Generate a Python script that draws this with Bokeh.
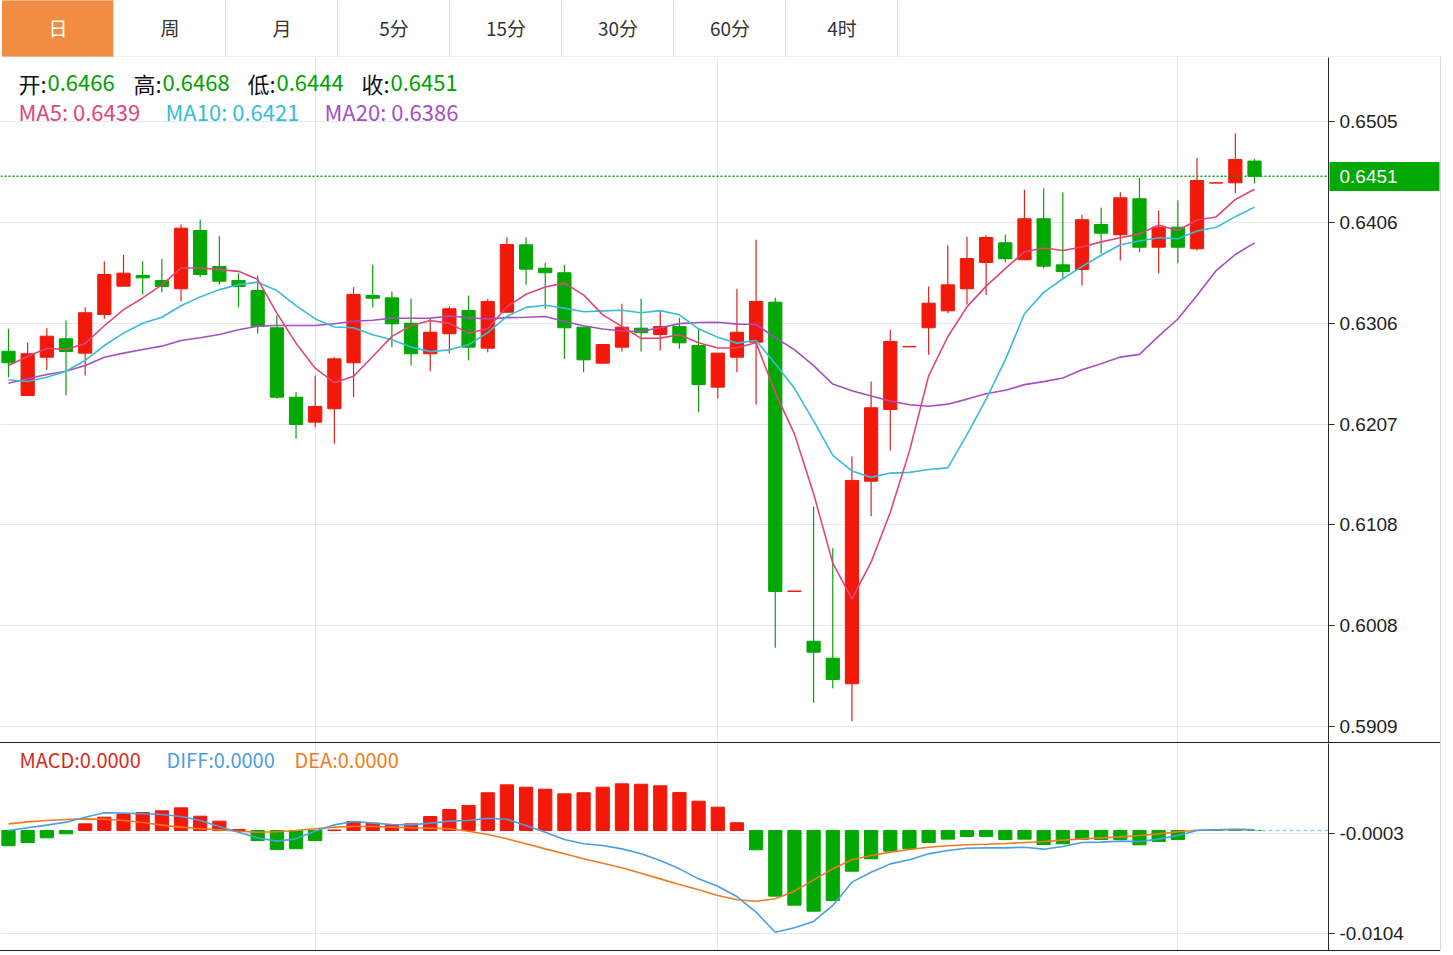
import numpy as np
import pandas as pd
from bokeh.plotting import figure
from bokeh.models import (Range1d, FixedTicker, PrintfTickFormatter, Span, Label,
                          ColumnDataSource, Spacer, LinearAxis)
from bokeh.layouts import column, row
from bokeh.embed import file_html
from bokeh.resources import INLINE
from bokeh.core.properties import value

# ---------------- data ----------------
tab_labels = ["日", "周", "月", "5分", "15分", "30分", "60分", "4时"]

opens = [0.62787, 0.62351, 0.62728, 0.62909, 0.62768, 0.63149, 0.63428, 0.63533, 0.63484, 0.63402,
         0.63976, 0.63622, 0.63484, 0.63385, 0.63018, 0.62334, 0.62088, 0.62220, 0.62673, 0.63336,
         0.63313, 0.63063, 0.62762, 0.62959, 0.63188, 0.62817, 0.63171, 0.63835, 0.63605, 0.63560,
         0.63024, 0.62669, 0.62827, 0.63014, 0.62952, 0.63031, 0.62843, 0.62433, 0.62728, 0.62876,
         0.63270, 0.60420, 0.59930, 0.59763, 0.59511, 0.61507, 0.62213, 0.62830, 0.63018, 0.63185,
         0.63402, 0.63661, 0.63855, 0.63688, 0.64092, 0.63638, 0.63592, 0.64035, 0.63934, 0.64289,
         0.63812, 0.64009, 0.63796, 0.64444, 0.64446, 0.64660]
highs = [0.63008, 0.62870, 0.63014, 0.63090, 0.63221, 0.63674, 0.63737, 0.63674, 0.63698, 0.64035,
         0.64085, 0.63920, 0.63556, 0.63533, 0.63139, 0.62383, 0.62548, 0.62728, 0.63418, 0.63638,
         0.63375, 0.63303, 0.63106, 0.63228, 0.63336, 0.63303, 0.63910, 0.63910, 0.63658, 0.63638,
         0.63030, 0.62853, 0.63254, 0.63303, 0.63188, 0.63116, 0.63008, 0.62768, 0.63402, 0.63885,
         0.63313, 0.60425, 0.61257, 0.60847, 0.61750, 0.62489, 0.62998, 0.62836, 0.63425, 0.63829,
         0.63914, 0.63930, 0.63934, 0.64377, 0.64393, 0.64354, 0.64131, 0.64200, 0.64354, 0.64495,
         0.64173, 0.64272, 0.64692, 0.64448, 0.64935, 0.64680]
lows = [0.62531, 0.62350, 0.62604, 0.62351, 0.62548, 0.63106, 0.63425, 0.63346, 0.63368, 0.63280,
        0.63516, 0.63441, 0.63221, 0.62959, 0.62318, 0.61924, 0.62039, 0.61875, 0.62334, 0.63221,
        0.62827, 0.62646, 0.62590, 0.62768, 0.62696, 0.62777, 0.63170, 0.63441, 0.63205, 0.62712,
        0.62580, 0.62669, 0.62784, 0.62784, 0.62794, 0.62811, 0.62186, 0.62318, 0.62580, 0.62262,
        0.59865, 0.60420, 0.59324, 0.59467, 0.59142, 0.61162, 0.61809, 0.62830, 0.62752, 0.63162,
        0.63247, 0.63341, 0.63664, 0.63685, 0.63605, 0.63500, 0.63434, 0.63747, 0.63681, 0.63763,
        0.63556, 0.63654, 0.63779, 0.64444, 0.64344, 0.64440]
closes = [0.62673, 0.62762, 0.62935, 0.62784, 0.63166, 0.63543, 0.63556, 0.63510, 0.63425, 0.63999,
          0.63543, 0.63477, 0.63425, 0.63031, 0.62334, 0.62065, 0.62243, 0.62712, 0.63346, 0.63309,
          0.63057, 0.62762, 0.62974, 0.63205, 0.62827, 0.63277, 0.63838, 0.63595, 0.63560, 0.63018,
          0.62702, 0.62853, 0.63024, 0.62969, 0.63031, 0.62870, 0.62459, 0.62768, 0.62974, 0.63277,
          0.60420, 0.60425, 0.59822, 0.59553, 0.61514, 0.62230, 0.62883, 0.62834, 0.63260, 0.63441,
          0.63700, 0.63907, 0.63698, 0.64092, 0.63625, 0.63572, 0.64082, 0.63950, 0.64298, 0.63812,
          0.64009, 0.63812, 0.64469, 0.64446, 0.64676, 0.64510]

# moving-average values at the start of the window (earlier history is not shown)
ma5_head = [0.62646, 0.62735, 0.62817, 0.62804]
ma10_head = [0.62506, 0.62489, 0.62531, 0.62590, 0.62696, 0.62843, 0.62965, 0.63063, 0.63122]
ma20_head = [0.62472, 0.62515, 0.62558, 0.62590, 0.62646, 0.62728, 0.62768, 0.62804, 0.62837,
             0.62893, 0.62919, 0.62952, 0.62998, 0.63034, 0.63040, 0.63040, 0.63040, 0.63057, 0.63083]

macd_hist = [-0.00154, -0.00121, -0.00074, -0.00033, 0.00067, 0.00134, 0.00161, 0.00181, 0.00198, 0.00228,
             0.00144, 0.00094, 0.00010, -0.00101, -0.00191, -0.00184, -0.00101, 0.00005, 0.00091, 0.00074,
             0.00057, 0.00067, 0.00141, 0.00211, 0.00252, 0.00380, 0.00460, 0.00436, 0.00416, 0.00369,
             0.00380, 0.00436, 0.00470, 0.00466, 0.00450, 0.00383, 0.00295, 0.00235, 0.00078, -0.00194,
             -0.00661, -0.00752, -0.00812, -0.00705, -0.00410, -0.00285, -0.00208, -0.00184, -0.00121, -0.00087,
             -0.00060, -0.00060, -0.00091, -0.00087, -0.00141, -0.00134, -0.00091, -0.00091, -0.00091, -0.00144,
             -0.00111, -0.00091, 0.0, 0.0, 0.0, 0.0]
macd_diff = [0.0, 0.00027, 0.00054, 0.00084, 0.00134, 0.00178, 0.00175, 0.00168, 0.00161, 0.00141,
             0.00101, 0.00040, -0.00017, -0.00074, -0.00107, -0.00084, -0.00007, 0.00057, 0.00091, 0.00074,
             0.00060, 0.00057, 0.00074, 0.00094, 0.00101, 0.00124, 0.00114, 0.00050, -0.00017, -0.00091,
             -0.00134, -0.00151, -0.00185, -0.00235, -0.00302, -0.00386, -0.00487, -0.00561, -0.00665, -0.00822,
             -0.01024, -0.00980, -0.00916, -0.00755, -0.00520, -0.00420, -0.00336, -0.00295, -0.00235, -0.00201,
             -0.00178, -0.00175, -0.00175, -0.00168, -0.00188, -0.00161, -0.00121, -0.00117, -0.00107, -0.00111,
             -0.00087, -0.00050, 0.0, 0.00007, 0.00013, 0.00007]
macd_dea = [0.00067, 0.00087, 0.00101, 0.00111, 0.00117, 0.00114, 0.00101, 0.00081, 0.00054, 0.00034,
            0.00017, 0.00007, -0.00007, -0.00017, -0.00013, 0.0, 0.00017, 0.00034, 0.00040, 0.00040,
            0.00034, 0.00027, 0.00023, 0.00017, -0.00007, -0.00040, -0.00084, -0.00134, -0.00185, -0.00235,
            -0.00285, -0.00329, -0.00376, -0.00430, -0.00487, -0.00544, -0.00597, -0.00655, -0.00698, -0.00712,
            -0.00688, -0.00611, -0.00497, -0.00386, -0.00295, -0.00252, -0.00218, -0.00191, -0.00168, -0.00154,
            -0.00144, -0.00138, -0.00131, -0.00121, -0.00111, -0.00097, -0.00084, -0.00074, -0.00064, -0.00050,
            -0.00034, -0.00013, 0.00003, 0.00007, 0.00010, 0.00007]

price_ticks = [0.5909, 0.600832, 0.610764, 0.620696, 0.630628, 0.64056, 0.650492]
macd_ticks = [-0.0003, -0.0104]
month_breaks = [16, 37, 61]

ohlc_text = [("开:", "0.6466"), ("高:", "0.6468"), ("低:", "0.6444"), ("收:", "0.6451")]
ma_text = [("MA5: 0.6439", "#E0457B"), ("MA10: 0.6421", "#38BCD8"), ("MA20: 0.6386", "#A64FBF")]
macd_text = [("MACD:0.0000", "#D42A1E"), ("DIFF:0.0000", "#4A9FE2"), ("DEA:0.0000", "#F07A20")]
last_price = 0.6451

# ---------------- styling constants ----------------
RED = "#F2190A"
GREEN = "#00A800"
RED_WICK = "#D8261C"
GREEN_WICK = "#0C9E0C"
GRID = "#E3E9F0"
CJK = "Noto Sans CJK SC"
AXF = "Liberation Sans"
AX_FS = "19px"

n = len(closes)
idx = np.arange(n)
cl = pd.Series(closes)
ma5 = cl.rolling(5).mean().to_numpy()
ma5[:len(ma5_head)] = ma5_head
ma10 = cl.rolling(10).mean().to_numpy()
ma10[:len(ma10_head)] = ma10_head
ma20 = cl.rolling(20).mean().to_numpy()
ma20[:len(ma20_head)] = ma20_head

o = np.array(opens); c = np.array(closes)
up = c >= o
src = ColumnDataSource(dict(
    x=idx, h=highs, l=lows,
    top=np.maximum(o, c), bottom=np.minimum(o, c),
    body=[RED if u else GREEN for u in up],
    wick=[RED_WICK if u else GREEN_WICK for u in up],
))

X_START, X_END = -0.417, 68.86
xr = Range1d(X_START, X_END)

# ---------------- tab bar ----------------
tabs = figure(width=1441, height=57, x_range=Range1d(0, 1441), y_range=Range1d(57, 0),
              toolbar_location=None, output_backend="svg", min_border=0,
              x_axis_location=None, y_axis_location=None, outline_line_color=None)
tabs.grid.visible = False
TAB_W = 112
TAB_X0 = 2
tabs.quad(left=[TAB_X0], right=[TAB_X0 + TAB_W - 1], top=[0], bottom=[56],
          fill_color="#F28C42", line_color="#F28C42")
sep_x = [TAB_X0 + TAB_W * (k + 1) - 1 for k in range(len(tab_labels))]
tabs.segment(x0=sep_x, y0=[0] * len(sep_x), x1=sep_x, y1=[56] * len(sep_x),
             line_color="#DEDEDE", line_width=1)
tabs.segment(x0=[0], y0=[56.5], x1=[1441], y1=[56.5], line_color="#DEDEDE", line_width=1)
tabs.text(x=[TAB_X0 + TAB_W * k + TAB_W / 2 - 0.5 for k in range(len(tab_labels))],
          y=[26.5] * len(tab_labels), text=tab_labels,
          text_color=["#FFFFFF"] + ["#333333"] * (len(tab_labels) - 1),
          text_font=value(CJK), text_font_size="19px",
          text_align="center", text_baseline="middle")


def style_axis(ax, ticks):
    ax.ticker = FixedTicker(ticks=ticks)
    ax.formatter = PrintfTickFormatter(format="%.4f")
    ax.axis_line_color = "#2B2B2B"
    ax.major_tick_line_color = "#2B2B2B"
    ax.major_tick_out = 6
    ax.major_tick_in = 0
    ax.minor_tick_line_color = None
    ax.major_label_text_font = AXF
    ax.major_label_text_font_size = AX_FS
    ax.major_label_text_color = "#222222"
    ax.major_label_standoff = 5


# ---------------- main price chart ----------------
p = figure(width=1440, height=685, x_range=xr, y_range=Range1d(0.589325, 0.656805),
           toolbar_location=None, output_backend="svg",
           x_axis_location=None, y_axis_location="right",
           min_border_left=0, min_border_right=112, min_border_top=0, min_border_bottom=0,
           outline_line_color=None, background_fill_color="white", border_fill_color="white")
style_axis(p.yaxis[0], price_ticks)
p.ygrid.grid_line_color = GRID
p.xgrid.ticker = FixedTicker(ticks=month_breaks)
p.xgrid.grid_line_color = GRID

p.segment(x0="x", y0="l", x1="x", y1="h", line_color="wick", line_width=1.2, source=src)
p.vbar(x="x", width=0.69, top="top", bottom="bottom", fill_color="body", line_color="body",
       line_width=1, source=src)

p.line(idx, ma20, line_color="#A64FBF", line_width=1.6)
p.line(idx, ma10, line_color="#38BCD8", line_width=1.6)
p.line(idx, ma5, line_color="#E0457B", line_width=1.6)

p.add_layout(Span(location=last_price, dimension="width", line_color=GREEN,
                  line_dash="2 2", line_width=1.5))

# current-price tag: a second right axis whose single thick tick forms the green box
tag = LinearAxis(ticker=FixedTicker(ticks=[last_price]),
                 formatter=PrintfTickFormatter(format="%.4f"),
                 axis_line_color=None, minor_tick_line_color=None,
                 major_tick_line_color=GREEN, major_tick_line_width=29,
                 major_tick_in=71, major_tick_out=39,
                 major_label_standoff=-100, major_label_text_color="white",
                 major_label_text_font=AXF, major_label_text_font_size=AX_FS)
p.add_layout(tag, "right")

# legend texts (screen units from the frame's bottom-left)
MAIN_FRAME_BOTTOM = 742
key_x = [18, 133, 247, 361]
for (k, v), kx in zip(ohlc_text, key_x):
    p.add_layout(Label(x=kx, y=MAIN_FRAME_BOTTOM - 82, x_units="screen", y_units="screen",
                       text=k, text_color="#111111", text_font=CJK, text_font_size="22px",
                       text_baseline="middle"))
    p.add_layout(Label(x=kx + 29, y=MAIN_FRAME_BOTTOM - 82, x_units="screen", y_units="screen",
                       text=v, text_color="#00A000", text_font=CJK, text_font_size="22px",
                       text_baseline="middle"))
ma_x = [18, 165, 324]
for (t, col), mx in zip(ma_text, ma_x):
    p.add_layout(Label(x=mx, y=MAIN_FRAME_BOTTOM - 110, x_units="screen", y_units="screen",
                       text=t, text_color=col, text_font=CJK, text_font_size="22px",
                       text_baseline="middle"))

# ---------------- MACD panel ----------------
p2 = figure(width=1440, height=207, x_range=xr, y_range=Range1d(-0.012083, 0.00876),
            toolbar_location=None, output_backend="svg",
            x_axis_location=None, y_axis_location="right",
            min_border_left=0, min_border_right=112, min_border_top=0, min_border_bottom=0,
            outline_line_color=None, background_fill_color="white", border_fill_color="white")
style_axis(p2.yaxis[0], macd_ticks)
p2.ygrid.grid_line_color = GRID
p2.xgrid.ticker = FixedTicker(ticks=month_breaks)
p2.xgrid.grid_line_color = GRID

h = np.array(macd_hist)
msrc = ColumnDataSource(dict(x=idx, top=h, bottom=np.zeros(n),
                             color=[RED if v > 0 else GREEN for v in h]))
p2.vbar(x="x", width=0.69, top="top", bottom="bottom", fill_color="color", line_color="color",
        line_width=1, source=msrc)
p2.line(idx, macd_dea, line_color="#F07A20", line_width=1.6)
p2.line(idx, macd_diff, line_color="#4A9FE2", line_width=1.6)
p2.segment(x0=[n - 1], y0=[0], x1=[X_END], y1=[0], line_color="#9CCDF0",
           line_dash="4 3", line_width=1.5)

MACD_FRAME_BOTTOM = 950
mx_pos = [19, 166, 294]
for (t, col), mx in zip(macd_text, mx_pos):
    p2.add_layout(Label(x=mx, y=MACD_FRAME_BOTTOM - 759, x_units="screen", y_units="screen",
                        text=t, text_color=col, text_font=CJK, text_font_size="20px",
                        text_baseline="middle"))

sep1 = Spacer(width=1440, height=1, styles={"background-color": "#1E1E1E"})
sep2 = Spacer(width=1440, height=1, styles={"background-color": "#1E1E1E"})
vline = Spacer(width=1, height=894, styles={"background-color": "#DADADA"})

layout = column(tabs, row(column(p, sep1, p2, sep2), vline))
open("out.html", "w").write(file_html(layout, INLINE))
